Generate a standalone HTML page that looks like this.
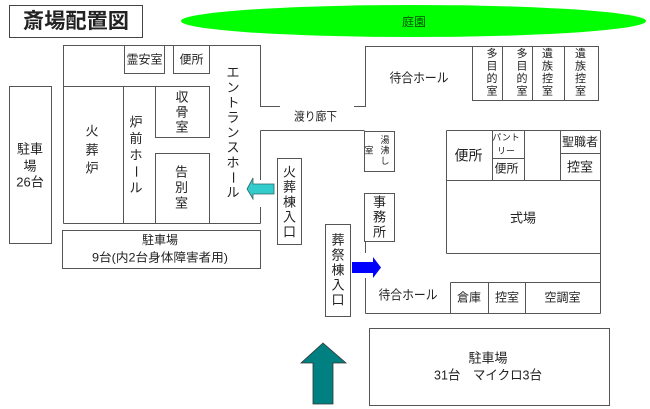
<!DOCTYPE html>
<html><head><meta charset="utf-8"><style>
html,body{margin:0;padding:0;background:#fff;}
svg{display:block;}
text{font-family:"Liberation Sans","Noto Sans CJK JP",sans-serif;fill:#222;}
</style></head><body>
<svg width="650" height="409" viewBox="0 0 650 409" xmlns="http://www.w3.org/2000/svg">
<g fill="none" stroke="#555" stroke-width="1">
<!-- title box -->
<rect x="9.5" y="5.5" width="133" height="32" stroke="#444"/>
<!-- crematorium building -->
<path d="M63.5,223.5 L63.5,45.5 L260.5,45.5 L260.5,106.5 L280,106.5"/>
<line x1="63.5" y1="86.5" x2="155.5" y2="86.5"/>
<line x1="123.5" y1="86.5" x2="123.5" y2="223.5"/>
<rect x="155.5" y="86.5" width="54" height="51"/>
<rect x="155.5" y="153.5" width="54" height="70"/>
<rect x="124.5" y="45.5" width="40" height="28"/>
<rect x="173.5" y="45.5" width="36" height="28"/>
<line x1="63.5" y1="223.5" x2="260.5" y2="223.5"/>
<line x1="260.5" y1="130.5" x2="260.5" y2="180"/>
<line x1="260.5" y1="207" x2="260.5" y2="223.5"/>
<line x1="260.5" y1="130.5" x2="364.5" y2="130.5"/>
<!-- waiting hall upper -->
<path d="M354,106.5 L365.5,106.5 L365.5,46.5 L598.5,46.5"/>
<rect x="472.5" y="46.5" width="30" height="54"/>
<rect x="502.5" y="46.5" width="30" height="54"/>
<rect x="532.5" y="46.5" width="32" height="54"/>
<rect x="564.5" y="46.5" width="34" height="54"/>
<!-- small rooms -->
<rect x="364.5" y="131.5" width="30" height="40"/>
<rect x="364.5" y="193.5" width="30" height="48"/>
<line x1="365.5" y1="241.5" x2="365.5" y2="253"/>
<!-- funeral hall -->
<line x1="365.5" y1="278" x2="365.5" y2="313.5"/>
<line x1="365.5" y1="313.5" x2="600.5" y2="313.5"/>
<line x1="600.5" y1="130.5" x2="600.5" y2="313.5"/>
<line x1="446.5" y1="130.5" x2="600.5" y2="130.5"/>
<line x1="446.5" y1="130.5" x2="446.5" y2="253.5"/>
<line x1="446.5" y1="253.5" x2="600.5" y2="253.5"/>
<line x1="446.5" y1="180.5" x2="600.5" y2="180.5"/>
<line x1="492.5" y1="130.5" x2="492.5" y2="180.5"/>
<line x1="524.5" y1="130.5" x2="524.5" y2="180.5"/>
<line x1="492.5" y1="158.5" x2="524.5" y2="158.5"/>
<line x1="560.5" y1="130.5" x2="560.5" y2="180.5"/>
<line x1="560.5" y1="153.5" x2="600.5" y2="153.5"/>
<line x1="450.5" y1="282.5" x2="600.5" y2="282.5"/>
<line x1="450.5" y1="282.5" x2="450.5" y2="313.5"/>
<line x1="488.5" y1="282.5" x2="488.5" y2="313.5"/>
<line x1="525.5" y1="282.5" x2="525.5" y2="313.5"/>
<!-- entrances -->
<rect x="277.5" y="158.5" width="24" height="86"/>
<rect x="325.5" y="224.5" width="25" height="92"/>
<!-- parking -->
<rect x="9.5" y="86.5" width="42" height="157"/>
<rect x="62.5" y="230.5" width="198" height="38"/>
<rect x="369.5" y="328.5" width="240" height="77"/>
</g>
<!-- garden ellipse -->
<ellipse cx="413.5" cy="21" rx="232.5" ry="16" fill="#00ff00"/>
<text x="414" y="22" font-size="12" text-anchor="middle" dominant-baseline="central" style="fill:#005500">庭園</text>
<!-- arrows -->
<polygon points="247,189 253,178 253,184 274,184 274,194 253,194 253,199" fill="#33cccc" stroke="#336666" stroke-width="0.8"/>
<polygon points="352,262 373,262 373,257 381,267.5 373,278 373,273 352,273" fill="#0000ff"/>
<polygon points="323,343 346,363 333,363 333,404 313,404 313,363 301,363" fill="#008080" stroke="#333" stroke-width="0.8"/>

<!-- title -->
<text x="76" y="21.5" font-size="21" font-weight="bold" text-anchor="middle" dominant-baseline="central" textLength="106" lengthAdjust="spacingAndGlyphs">斎場配置図</text>

<g font-size="13" text-anchor="middle" dominant-baseline="central">
<text x="144.5" y="59.5" font-size="12">霊安室</text>
<text x="191.5" y="59.5" font-size="12">便所</text>
<!-- エントランスホール -->
<text x="233" y="72.5">エ</text>
<text x="233" y="87.5">ン</text>
<text x="233" y="102.5">ト</text>
<text x="233" y="117.5">ラ</text>
<text x="233" y="132.5">ン</text>
<text x="233" y="147.5">ス</text>
<text x="233" y="162.5">ホ</text>
<text x="233" y="177.5" transform="rotate(90 233 177.5)">ー</text>
<text x="233" y="192.5">ル</text>
<!-- 火葬炉 -->
<text x="92" y="131">火</text>
<text x="92" y="150">葬</text>
<text x="92" y="168">炉</text>
<!-- 炉前ホール -->
<text x="136" y="122">炉</text>
<text x="136" y="138.5">前</text>
<text x="136" y="155">ホ</text>
<text x="136" y="171.5" transform="rotate(90 136 171.5)">ー</text>
<text x="136" y="188">ル</text>
<!-- 収骨室 -->
<text x="182" y="97">収</text>
<text x="182" y="112">骨</text>
<text x="182" y="127">室</text>
<!-- 告別室 -->
<text x="181.5" y="172">告</text>
<text x="181.5" y="187.5">別</text>
<text x="181.5" y="203">室</text>
<!-- 火葬棟入口 -->
<text x="289.5" y="172">火</text>
<text x="289.5" y="187">葬</text>
<text x="289.5" y="202">棟</text>
<text x="289.5" y="217">入</text>
<text x="289.5" y="232">口</text>
<!-- 葬祭棟入口 -->
<text x="338" y="240">葬</text>
<text x="338" y="255">祭</text>
<text x="338" y="270">棟</text>
<text x="338" y="285">入</text>
<text x="338" y="300">口</text>
<!-- 事務所 -->
<text x="379.5" y="202">事</text>
<text x="379.5" y="217">務</text>
<text x="379.5" y="232">所</text>
<!-- 湯沸し室 -->
<g font-size="9">
<text x="385" y="140">湯</text>
<text x="385" y="150.5">沸</text>
<text x="385" y="161">し</text>
<text x="369" y="150.5">室</text>
</g>
<!-- 多目的室 / 遺族控室 -->
<g font-size="11">
<text x="492" y="54">多</text>
<text x="492" y="66.5">目</text>
<text x="492" y="79">的</text>
<text x="492" y="91.5">室</text>
<text x="522" y="54">多</text>
<text x="522" y="66.5">目</text>
<text x="522" y="79">的</text>
<text x="522" y="91.5">室</text>
<text x="547.5" y="54">遺</text>
<text x="547.5" y="66.5">族</text>
<text x="547.5" y="79">控</text>
<text x="547.5" y="91.5">室</text>
<text x="580.5" y="54">遺</text>
<text x="580.5" y="66.5">族</text>
<text x="580.5" y="79">控</text>
<text x="580.5" y="91.5">室</text>
</g>
<text x="419" y="78" textLength="59" lengthAdjust="spacingAndGlyphs">待合ホール</text>
<text x="315.5" y="116.5" font-size="12" textLength="43" lengthAdjust="spacingAndGlyphs">渡り廊下</text>
<!-- right building -->
<text x="468.5" y="155.5" font-size="14">便所</text>
<text x="506" y="137.5" font-size="9">パント</text>
<text x="506" y="151" font-size="9">リー</text>
<text x="506.5" y="168.5" font-size="12">便所</text>
<text x="580" y="142" font-size="12">聖職者</text>
<text x="580" y="167" font-size="13">控室</text>
<text x="523" y="218">式場</text>
<text x="408" y="295" textLength="59" lengthAdjust="spacingAndGlyphs">待合ホール</text>
<text x="469" y="297.5" font-size="12">倉庫</text>
<text x="507" y="297.5" font-size="12">控室</text>
<text x="562.5" y="297.5" font-size="12">空調室</text>
<!-- parking labels -->
<text x="30" y="149">駐車</text>
<text x="30" y="166">場</text>
<text x="30" y="182">26台</text>
<text x="160" y="240" font-size="12">駐車場</text>
<text x="160" y="257.5" font-size="12" textLength="136" lengthAdjust="spacingAndGlyphs">9台(内2台身体障害者用)</text>
<text x="488" y="358" font-size="13">駐車場</text>
<text x="488" y="375" font-size="13" textLength="108" lengthAdjust="spacingAndGlyphs">31台　マイクロ3台</text>
</g>
</svg>
</body></html>
